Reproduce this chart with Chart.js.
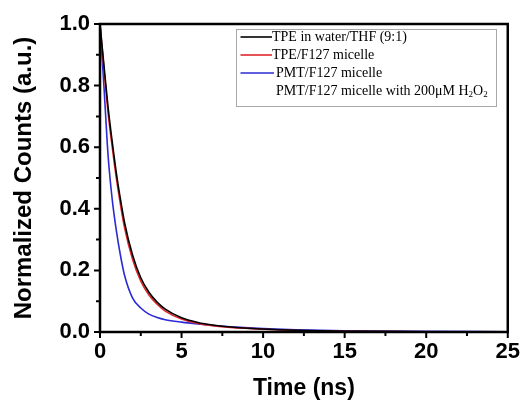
<!DOCTYPE html>
<html>
<head>
<meta charset="utf-8">
<script src="https://cdn.jsdelivr.net/npm/chart.js@4/dist/chart.umd.min.js"></script>
<style>
  html, body { margin: 0; padding: 0; background: #fff; }
  #wrap { width: 527px; height: 402px; }
</style>
</head>
<body>
<div id="wrap"><canvas id="decayChart" width="527" height="402"></canvas></div>
<script>
// time axis (ns) and normalized counts
const timeNs = [0, 0.25, 0.5, 0.75, 1, 1.25, 1.5, 2, 2.5, 3, 3.5, 4, 5, 6, 7, 8, 10, 12, 15, 20, 25];
const tpeWaterThf = [1.0, 0.862, 0.727, 0.617, 0.517, 0.432, 0.357, 0.249, 0.176, 0.129, 0.097, 0.074, 0.046, 0.031, 0.022, 0.016, 0.0095, 0.0055, 0.0025, 0.001, 0.0];
const tpeF127 = [1.0, 0.85, 0.71, 0.60, 0.50, 0.415, 0.34, 0.235, 0.165, 0.12, 0.09, 0.068, 0.042, 0.028, 0.020, 0.015, 0.009, 0.005, 0.002, 0.001, 0.0];
const pmtF127 = [1.0, 0.79, 0.57, 0.43, 0.33, 0.25, 0.185, 0.11, 0.078, 0.058, 0.047, 0.040, 0.032, 0.026, 0.021, 0.017, 0.011, 0.007, 0.004, 0.002, 0.001];

const legendLabels = ['TPE in water/THF (9:1)', 'TPE/F127 micelle', 'PMT/F127 micelle', 'PMT/F127 micelle with 200μM H2O2'];
const legendColors = ['#000000', '#e0262a', '#2a2ad6', null];

const xTicks = [0, 5, 10, 15, 20, 25];
const yTicks = [0, 0.2, 0.4, 0.6, 0.8, 1.0];

const tickFont = { family: 'Liberation Sans, Arial, sans-serif', size: 22, weight: 'bold' };

function toPoints(ys) {
    return timeNs.map((t, i) => ({ x: t, y: ys[i] }));
}

// frame, minor ticks and the boxed legend
const framePlugin = {
    id: 'frame',
    afterDraw(chart) {
        const ctx = chart.ctx;
        const a = chart.chartArea;
        const xs = chart.scales.x;
        const ys = chart.scales.y;
        ctx.save();
        ctx.strokeStyle = '#000';
        ctx.lineWidth = 2.5;
        ctx.strokeRect(a.left, a.top, a.right - a.left, a.bottom - a.top);

        ctx.lineWidth = 2;
        ctx.beginPath();
        for (let i = 0; i < xTicks.length; i++) {
            const px = xs.getPixelForValue(xTicks[i]);
            ctx.moveTo(px, a.bottom); ctx.lineTo(px, a.bottom + 6);
            if (i < xTicks.length - 1) {
                const mx = xs.getPixelForValue((xTicks[i] + xTicks[i + 1]) / 2);
                ctx.moveTo(mx, a.bottom); ctx.lineTo(mx, a.bottom + 4);
            }
        }
        for (let i = 0; i < yTicks.length; i++) {
            const py = ys.getPixelForValue(yTicks[i]);
            ctx.moveTo(a.left, py); ctx.lineTo(a.left - 6, py);
            if (i < yTicks.length - 1) {
                const my = ys.getPixelForValue((yTicks[i] + yTicks[i + 1]) / 2);
                ctx.moveTo(a.left, my); ctx.lineTo(a.left - 4, my);
            }
        }
        ctx.stroke();

        // legend box
        const bx = 236.5, by = 29.5, bw = 260, bh = 77;
        ctx.fillStyle = '#fff';
        ctx.fillRect(bx, by, bw, bh);
        ctx.strokeStyle = '#a8a8a8';
        ctx.lineWidth = 1;
        ctx.strokeRect(bx, by, bw, bh);

        const serif = '"Liberation Serif", "Times New Roman", serif';
        ctx.textBaseline = 'middle';
        ctx.fillStyle = '#000';
        legendLabels.forEach((label, i) => {
            const y = by + 7.5 + i * 18;
            let tx = i < 2 ? 272 : 276;
            if (legendColors[i]) {
                ctx.strokeStyle = legendColors[i];
                ctx.lineWidth = 1.6;
                ctx.beginPath();
                ctx.moveTo(bx + 4, y); ctx.lineTo(i < 2 ? 272 : 274, y);
                ctx.stroke();
            }
            ctx.font = '14px ' + serif;
            const m = label.match(/^(.*H)2O2$/);
            if (m) {
                ctx.fillText(m[1], tx, y);
                tx += ctx.measureText(m[1]).width;
                ctx.font = '9px ' + serif;
                ctx.fillText('2', tx, y + 4);
                tx += ctx.measureText('2').width;
                ctx.font = '14px ' + serif;
                ctx.fillText('O', tx, y);
                tx += ctx.measureText('O').width;
                ctx.font = '9px ' + serif;
                ctx.fillText('2', tx, y + 4);
            } else {
                ctx.fillText(label, tx, y);
            }
        });
        ctx.restore();
    }
};

const lineStyle = {
    borderWidth: 1.6,
    pointRadius: 0,
    fill: false,
    cubicInterpolationMode: 'monotone'
};

new Chart(document.getElementById('decayChart'), {
    type: 'line',
    data: {
        datasets: [
            { label: legendLabels[0], data: toPoints(tpeWaterThf), borderColor: legendColors[0], ...lineStyle },
            { label: legendLabels[1], data: toPoints(tpeF127), borderColor: legendColors[1], ...lineStyle },
            { label: legendLabels[2], data: toPoints(pmtF127), borderColor: legendColors[2], ...lineStyle }
        ]
    },
    options: {
        responsive: false,
        animation: false,
        layout: { padding: { top: 24, right: 15, left: 0, bottom: 0 } },
        plugins: {
            legend: { display: false },
            tooltip: { enabled: false }
        },
        scales: {
            x: {
                type: 'linear',
                min: 0,
                max: 25,
                afterFit: (s) => { s.height = 70; },
                afterBuildTicks: (s) => { s.ticks = xTicks.map(v => ({ value: v })); },
                grid: { display: false, drawTicks: false },
                border: { display: false },
                ticks: { color: '#000', font: tickFont, padding: 7, maxRotation: 0 },
                title: {
                    display: true, text: 'Time (ns)', color: '#000',
                    font: { family: 'Liberation Sans, Arial, sans-serif', size: 23, weight: 'bold' },
                    padding: { top: 0, bottom: 0 }
                }
            },
            y: {
                min: 0,
                max: 1,
                afterFit: (s) => { s.width = 100; },
                afterBuildTicks: (s) => { s.ticks = yTicks.map(v => ({ value: v })); },
                grid: { display: false, drawTicks: false },
                border: { display: false },
                ticks: { color: '#000', font: tickFont, padding: 10, callback: (v) => v.toFixed(1) },
                title: {
                    display: true, text: 'Normalized Counts (a.u.)', color: '#000',
                    font: { family: 'Liberation Sans, Arial, sans-serif', size: 24, weight: 'bold' },
                    padding: { top: 10, bottom: 0 }
                }
            }
        }
    },
    plugins: [framePlugin]
});
</script>
</body>
</html>
